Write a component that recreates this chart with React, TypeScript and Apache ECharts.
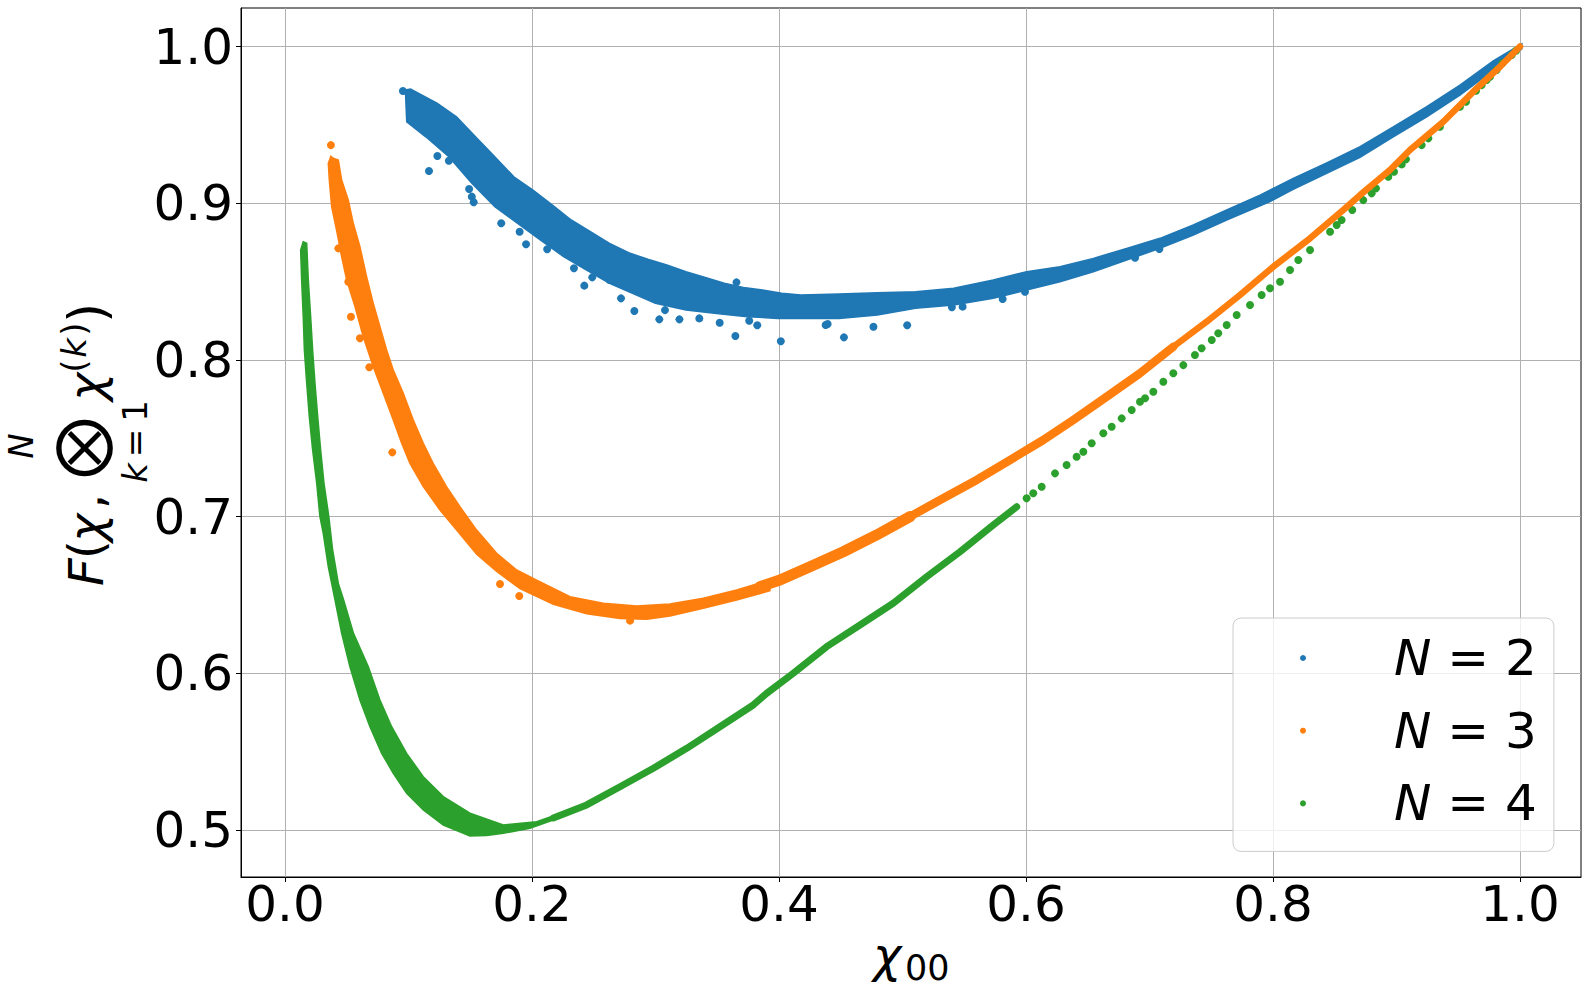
import React, { useEffect, useRef } from 'react';
import * as echarts from 'echarts';

const X_MIN = -0.0356;
const X_MAX = 1.0494;
const Y_MIN = 0.47;
const Y_MAX = 1.0246;
const xTicks = [0, 0.2, 0.4, 0.6, 0.8, 1.0];
const yTicks = [0.5, 0.6, 0.7, 0.8, 0.9, 1.0];
const seriesNames = ['N = 2', 'N = 3', 'N = 4'];
const colors = ['#1f77b4', '#ff7f0e', '#2ca02c'];

// N = 2 : band edges
const blueUpper = [[0.0975,0.9722],[0.1017,0.9729],[0.1234,0.9638],[0.1389,0.9552],[0.1543,0.9424],[0.1699,0.9297],[0.1853,0.9169],[0.2008,0.9084],[0.2163,0.8989],[0.2318,0.8893],[0.2473,0.8818],[0.2628,0.8744],[0.2783,0.8684],[0.2938,0.8642],[0.3092,0.8606],[0.3247,0.8563],[0.3403,0.8527],[0.3557,0.8489],[0.3712,0.8463],[0.3867,0.8446],[0.4022,0.8425],[0.4177,0.8414],[0.4486,0.8421],[0.4796,0.8429],[0.5106,0.8435],[0.5415,0.8457],[0.5735,0.851],[0.6005,0.8563],[0.6275,0.8595],[0.6545,0.8648],[0.6815,0.8712],[0.7085,0.8776],[0.7355,0.8861],[0.7625,0.8957],[0.7895,0.9052],[0.8164,0.9159],[0.8435,0.9258],[0.8705,0.9361],[0.8974,0.9488],[0.9245,0.9616],[0.9514,0.9754],[0.9784,0.9909],[1.0015,1.0018]];
const blueLower = [[0.0986,0.952],[0.114,0.9424],[0.1327,0.9297],[0.1513,0.9127],[0.1699,0.8978],[0.1884,0.8872],[0.207,0.8765],[0.2256,0.8659],[0.2442,0.8574],[0.2628,0.8489],[0.2814,0.8425],[0.2999,0.8361],[0.3247,0.8318],[0.3495,0.8297],[0.3743,0.8276],[0.3991,0.8265],[0.4239,0.8265],[0.4486,0.8265],[0.4796,0.8287],[0.5106,0.8329],[0.5415,0.835],[0.5735,0.8393],[0.6005,0.8446],[0.6275,0.8499],[0.6545,0.8563],[0.6815,0.8638],[0.7085,0.8712],[0.7355,0.8797],[0.7625,0.8893],[0.7976,0.901],[0.8164,0.9089],[0.8435,0.9191],[0.8705,0.9293],[0.8974,0.9424],[0.9245,0.9552],[0.9514,0.969],[0.9784,0.985],[1.0015,0.9985]];
const blueDots = [[0.0955,0.9716],[0.1166,0.9206],[0.1234,0.9301],[0.1327,0.9271],[0.1491,0.9091],[0.1513,0.9042],[0.1528,0.9006],[0.1751,0.8872],[0.19,0.8818],[0.1952,0.8738],[0.2123,0.8706],[0.234,0.8585],[0.2424,0.8474],[0.2488,0.8527],[0.2628,0.851],[0.2721,0.8393],[0.2829,0.8312],[0.3031,0.8259],[0.3077,0.8318],[0.3194,0.8259],[0.3355,0.8265],[0.352,0.8237],[0.3647,0.8153],[0.3656,0.8495],[0.3759,0.825],[0.3824,0.8221],[0.4015,0.8119],[0.4378,0.8223],[0.4394,0.8229],[0.4526,0.8144],[0.4765,0.8212],[0.5038,0.8221],[0.54,0.8336],[0.5487,0.834],[0.5811,0.8389],[0.5992,0.8435],[0.6883,0.8652],[0.708,0.8708]];

// N = 3
const orangeUpper = [[0.0372,0.93],[0.0391,0.9287],[0.0432,0.9276],[0.0459,0.9148],[0.0513,0.902],[0.0553,0.8872],[0.0607,0.8722],[0.0661,0.8531],[0.0715,0.8361],[0.0769,0.8212],[0.0823,0.8063],[0.0877,0.7936],[0.0958,0.7787],[0.1039,0.7617],[0.112,0.7468],[0.12,0.734],[0.1308,0.7191],[0.1417,0.7063],[0.1552,0.6914],[0.1714,0.6766],[0.1876,0.6659],[0.2038,0.6595],[0.2308,0.6489],[0.2577,0.6447],[0.2848,0.643],[0.3117,0.6442],[0.3387,0.6479],[0.3657,0.6532],[0.3927,0.6595]];
const orangeLower = [[0.0351,0.9255],[0.0359,0.9148],[0.0378,0.8978],[0.0418,0.8829],[0.0459,0.8659],[0.05,0.851],[0.0567,0.834],[0.0634,0.8148],[0.0715,0.7957],[0.0796,0.7787],[0.0877,0.7617],[0.0945,0.7468],[0.1012,0.734],[0.112,0.7191],[0.1255,0.7042],[0.139,0.6914],[0.1552,0.676],[0.1714,0.665],[0.1903,0.654],[0.2173,0.644],[0.2443,0.638],[0.2713,0.635],[0.2929,0.6345],[0.3117,0.6366],[0.3387,0.6415],[0.3657,0.6468],[0.3927,0.6527]];
const orangeCenter = [[0.3846,0.6553],[0.4008,0.6595],[0.4251,0.668],[0.4521,0.6776],[0.4791,0.6883],[0.5061,0.7],[0.533,0.7117],[0.5601,0.7234],[0.587,0.7361],[0.614,0.7489],[0.6383,0.7617],[0.6653,0.7765],[0.6923,0.7915],[0.7193,0.8084],[0.7463,0.8244],[0.7733,0.8414],[0.8003,0.8595],[0.83,0.8776],[0.8569,0.8957],[0.8705,0.9052],[0.8947,0.9212],[0.9109,0.934],[0.9379,0.952],[0.9649,0.9733],[0.9838,0.9871],[1.0,1.0]];
const orangeDots = [[0.0372,0.9371],[0.0432,0.8712],[0.0513,0.8499],[0.0534,0.8276],[0.0607,0.8138],[0.0683,0.7953],[0.0869,0.741],[0.1741,0.657],[0.1897,0.6493],[0.2794,0.6336]];

// N = 4
const greenOuter = [[0.0148,0.8754],[0.0127,0.8701],[0.0135,0.851],[0.0148,0.8276],[0.0157,0.8063],[0.0176,0.7851],[0.0197,0.7638],[0.0224,0.7425],[0.0257,0.7213],[0.0283,0.7],[0.031,0.6893],[0.0351,0.668],[0.0405,0.6468],[0.0459,0.6255],[0.0526,0.6042],[0.0607,0.583],[0.0688,0.5659],[0.0783,0.5489],[0.0877,0.5362],[0.0985,0.5234],[0.112,0.5128],[0.1282,0.5032],[0.1498,0.4962],[0.1633,0.4965],[0.1768,0.4979],[0.1984,0.5011],[0.2173,0.5064]];
const greenInner = [[0.0176,0.8744],[0.0189,0.851],[0.0208,0.8276],[0.0224,0.8063],[0.0243,0.7851],[0.0265,0.7638],[0.0289,0.7425],[0.0316,0.7213],[0.0355,0.7],[0.0386,0.6787],[0.0432,0.6574],[0.0475,0.6468],[0.0555,0.6255],[0.0675,0.6042],[0.0769,0.583],[0.0864,0.5659],[0.0985,0.5489],[0.112,0.534],[0.1282,0.5213],[0.1498,0.5107],[0.1768,0.5032],[0.2038,0.5053],[0.2173,0.509]];
const greenLine = [[0.2173,0.5077],[0.2443,0.516],[0.2713,0.5276],[0.2983,0.5394],[0.3253,0.5521],[0.3522,0.5659],[0.3792,0.5798],[0.39,0.5872],[0.4116,0.6],[0.4386,0.617],[0.4656,0.6308],[0.4925,0.6447],[0.5196,0.6616],[0.5466,0.6776],[0.5735,0.6946],[0.5925,0.7063]];
const greenDots = [[0.6005,0.7117],[0.6059,0.7149],[0.6127,0.7191],[0.6235,0.7276],[0.6329,0.7329],[0.641,0.7382],[0.6464,0.7414],[0.6532,0.7468],[0.6626,0.7532],[0.6694,0.7574],[0.6775,0.7627],[0.6856,0.768],[0.6923,0.7733],[0.6964,0.7755],[0.7031,0.7797],[0.7112,0.7861],[0.7193,0.7915],[0.7274,0.7967],[0.7368,0.8031],[0.7422,0.8074],[0.7504,0.8127],[0.7557,0.817],[0.7625,0.8223],[0.7706,0.8287],[0.7814,0.835],[0.7908,0.8414],[0.7976,0.8457],[0.8057,0.8499],[0.8138,0.8574],[0.8205,0.8638],[0.83,0.8701],[0.8462,0.8818],[0.8516,0.8861],[0.8556,0.8893],[0.8642,0.8957],[0.8731,0.902],[0.8799,0.9063],[0.8834,0.9095],[0.8934,0.9169],[0.898,0.9201],[0.9042,0.9248],[0.9077,0.928],[0.9204,0.9371],[0.9258,0.9414],[0.9352,0.9488],[0.9514,0.9616],[0.9563,0.9648],[0.9644,0.9718],[0.969,0.9754],[0.973,0.9786],[0.9757,0.9807],[0.9811,0.985],[0.9857,0.9893],[0.9933,0.9946],[0.9968,0.9973]];

const FONT = 'DejaVu Sans';

function band(name: string, edgeA: number[][], edgeB: number[][], color: string) {
  const pts = edgeA.concat(edgeB.slice().reverse());
  return {
    type: 'custom',
    name,
    silent: true,
    data: pts,
    encode: { x: 0, y: 1 },
    renderItem: (params: any, api: any) => {
      if (params.dataIndex !== 0) return null;
      return {
        type: 'polygon',
        shape: { points: pts.map((p) => api.coord(p)) },
        style: { fill: color, stroke: color, lineWidth: 1.5 },
      };
    },
  };
}

function line(name: string, data: number[][], color: string, width: number) {
  return {
    type: 'line',
    name,
    data,
    silent: true,
    showSymbol: false,
    symbol: 'none',
    lineStyle: { color, width, cap: 'round', join: 'round', opacity: 1 },
  };
}

function dots(name: string, data: number[][], color: string) {
  return {
    type: 'scatter',
    name,
    data,
    silent: true,
    symbolSize: 8,
    itemStyle: { color, opacity: 1 },
  };
}

function t(text: string, x: number, y: number, size: number, italic: boolean, align = 'left') {
  return {
    type: 'text',
    x,
    y,
    style: {
      text,
      fontSize: size,
      fontFamily: FONT,
      fontStyle: italic ? 'italic' : 'normal',
      fill: '#000',
      textAlign: align,
      verticalAlign: 'middle',
      textVerticalAlign: 'middle',
    },
  };
}

export default function App() {
  const ref = useRef<HTMLDivElement>(null);
  useEffect(() => {
    if (!ref.current) return;
    const chart = echarts.init(ref.current, null, { renderer: 'svg', width: 1587, height: 991 });
    const axisLabelBase = { fontSize: 50, fontFamily: FONT, color: '#000' };
    const option: any = {
      animation: false,
      backgroundColor: '#fff',
      grid: { left: 241, right: 6, top: 8, bottom: 114, show: true, borderColor: '#000', borderWidth: 1, backgroundColor: 'transparent' },
      xAxis: {
        type: 'value', min: X_MIN, max: X_MAX,
        axisLine: { show: true, onZero: false, lineStyle: { color: '#000', width: 1 } },
        axisTick: { show: true, length: 5, customValues: xTicks, lineStyle: { color: '#000', width: 1 } },
        axisLabel: { ...axisLabelBase, customValues: xTicks, margin: 2, formatter: (v: number) => v.toFixed(1) },
        splitLine: { show: true, lineStyle: { color: '#b0b0b0', width: 1 } },
      },
      yAxis: {
        type: 'value', min: Y_MIN, max: Y_MAX,
        axisLine: { show: true, onZero: false, lineStyle: { color: '#000', width: 1 } },
        axisTick: { show: true, length: 5, customValues: yTicks, lineStyle: { color: '#000', width: 1 } },
        axisLabel: { ...axisLabelBase, customValues: yTicks, margin: 8, formatter: (v: number) => v.toFixed(1) },
        splitLine: { show: true, lineStyle: { color: '#b0b0b0', width: 1 } },
      },
      legend: {
        data: seriesNames,
        orient: 'vertical',
        left: 1233,
        top: 618,
        padding: [15, 17, 23, 67],
        itemWidth: 6,
        itemHeight: 6,
        itemGap: 22.7,
        icon: 'circle',
        selectedMode: false,
        backgroundColor: 'rgba(255,255,255,0.8)',
        borderColor: '#cccccc',
        borderWidth: 1,
        borderRadius: 8,
        itemStyle: { opacity: 1 },
        formatter: (name: string) => '{i|N} = ' + name.split('= ')[1],
        textStyle: {
          fontSize: 50, fontFamily: FONT, color: '#000', lineHeight: 50, padding: [0, 0, 0, 83],
          rich: { i: { fontSize: 50, fontFamily: FONT, fontStyle: 'italic', color: '#000', lineHeight: 50 } },
        },
      },
      series: [
        band('N = 2 band', blueUpper, blueLower, colors[0]),
        dots(seriesNames[0], blueDots, colors[0]),
        band('N = 3 band', orangeUpper, orangeLower, colors[1]),
        line('N = 3 a', orangeCenter.slice(0, 6), colors[1], 11),
        line('N = 3 b', orangeCenter.slice(5, 14), colors[1], 8.5),
        line('N = 3 c', orangeCenter.slice(13), colors[1], 6.5),
        dots(seriesNames[1], orangeDots, colors[1]),
        band('N = 4 band', greenOuter, greenInner, colors[2]),
        line('N = 4 line', greenLine, colors[2], 7),
        dots(seriesNames[2], greenDots, colors[2]),
      ],
      graphic: [
        {
          type: 'group',
          x: 103,
          y: 585,
          rotation: Math.PI / 2,
          children: [
            t('F', -1, -16.6, 48, true),
            t('(', 26, -16.6, 48, false),
            t('χ', 43, -16.6, 48, true),
            t(',', 76, -16.6, 48, false),
            t('⨂', 137, -23, 60, false, 'center'),
            t('N', 139, -82.5, 34, true, 'center'),
            t('k', 112, 32, 34, true, 'center'),
            t('=', 142, 32, 34, false, 'center'),
            t('1', 174, 32, 34, false, 'center'),
            t('χ', 184, -16.6, 48, true),
            t('(', 219, -29, 34, false, 'center'),
            t('k', 237, -29, 34, true, 'center'),
            t(')', 256, -29, 34, false, 'center'),
            t(')', 262, -16, 52, false),
          ],
        },
        t('χ', 873, 955, 48, true),
        t('00', 905, 968, 35, false),
      ],
    };
    chart.setOption(option);
    return () => chart.dispose();
  }, []);
  return <div ref={ref} style={{ position: 'fixed', left: 0, top: 0, width: 1587, height: 991 }} />;
}
